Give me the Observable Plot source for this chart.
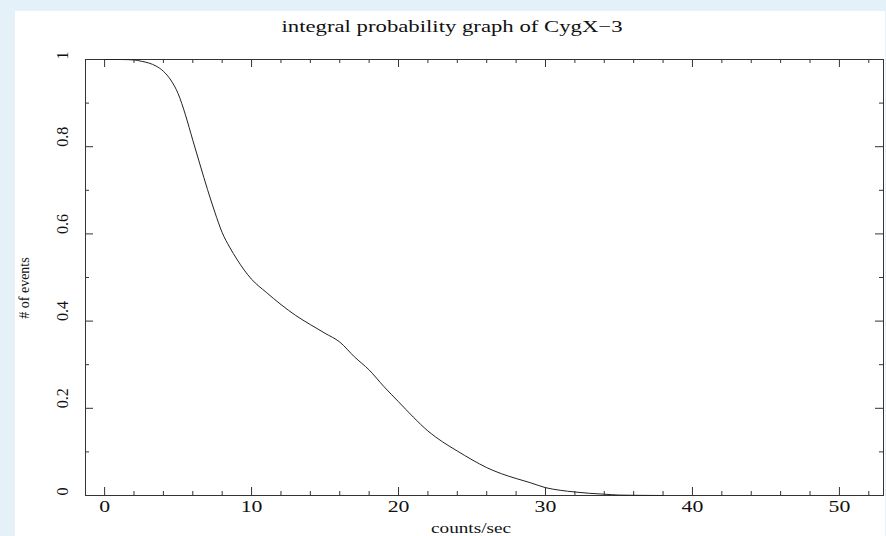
<!DOCTYPE html>
<html>
<head>
<meta charset="utf-8">
<script src="https://cdn.jsdelivr.net/npm/d3@7"></script>
<script src="https://cdn.jsdelivr.net/npm/@observablehq/plot@0.6"></script>
<style>
  html, body { margin: 0; padding: 0; background: #e4f1f8; width: 886px; height: 536px; overflow: hidden; }
  #chart { position: absolute; left: 15px; top: 11px; }
  #chart svg { display: block; background: white; }
</style>
</head>
<body>
<div id="chart"></div>
<script>
const titleText = "integral probability graph of CygX\u22123";
const xLabel = "counts/sec";
const yLabel = "# of events";

const countsPerSec = [0, 1, 2, 2.5, 3, 3.5, 4, 4.5, 5, 5.5, 6, 6.5, 7, 7.5, 8, 8.5, 9, 9.5, 10, 11, 12, 13, 14, 15, 16, 17, 18, 19, 20, 21, 22, 23, 24, 25, 26, 27, 28, 29, 30, 31, 32, 33, 34, 35, 36, 37, 38];
const probability  = [1, 1, 0.999, 0.996, 0.992, 0.985, 0.973, 0.953, 0.922, 0.873, 0.815, 0.758, 0.702, 0.65, 0.603, 0.57, 0.542, 0.517, 0.496, 0.466, 0.438, 0.413, 0.392, 0.372, 0.352, 0.318, 0.288, 0.25, 0.215, 0.18, 0.148, 0.123, 0.102, 0.082, 0.064, 0.05, 0.039, 0.029, 0.018, 0.012, 0.008, 0.005, 0.003, 0.001, 0.0005, 0.0002, 0];

const xMajorTicks = [0, 10, 20, 30, 40, 50];
const xMinorTicks = [2, 4, 6, 8, 12, 14, 16, 18, 22, 24, 26, 28, 32, 34, 36, 38, 42, 44, 46, 48, 52];
const yMajorTicks = [0, 0.2, 0.4, 0.6, 0.8, 1];
const yTickLabels = ["0", "0.2", "0.4", "0.6", "0.8", "1"];
const yMinorTicks = [0.1, 0.3, 0.5, 0.7, 0.9];

const data = countsPerSec.map((x, i) => ({x, y: probability[i]}));

const W = 870, H = 525, mL = 70, mR = 2, mT = 48, mB = 41;
const iW = W - mL - mR, iH = H - mT - mB;
const major = 8, minor = 4;
const ink = "#333";
const serif = "'Liberation Serif', 'DejaVu Serif', serif";

const chart = Plot.plot({
  width: W, height: H,
  marginLeft: mL, marginRight: mR, marginTop: mT, marginBottom: mB,
  x: {domain: [-1.3, 53]},
  y: {domain: [0, 1], axis: null},
  style: {fontFamily: serif, fontSize: "16px", color: "#111", background: "white"},
  marks: [
    Plot.frame({stroke: ink, strokeWidth: 1}),
    Plot.tickX(xMajorTicks, {x: d => d, insetTop: iH - major, stroke: ink}),
    Plot.tickX(xMinorTicks, {x: d => d, insetTop: iH - minor, stroke: ink}),
    Plot.tickX(xMajorTicks, {x: d => d, insetBottom: iH - major, stroke: ink}),
    Plot.tickX(xMinorTicks, {x: d => d, insetBottom: iH - minor, stroke: ink}),
    Plot.tickY(yMajorTicks, {y: d => d, insetRight: iW - major, stroke: ink}),
    Plot.tickY(yMinorTicks, {y: d => d, insetRight: iW - minor, stroke: ink}),
    Plot.tickY(yMajorTicks, {y: d => d, insetLeft: iW - major, stroke: ink}),
    Plot.tickY(yMinorTicks, {y: d => d, insetLeft: iW - minor, stroke: ink}),
    Plot.axisX(xMajorTicks, {tickSize: 0, tickPadding: 5, fontSize: 16, label: null, tickFormat: d => String(d)}),
    Plot.text(yMajorTicks, {y: d => d, text: (d, i) => yTickLabels[i], frameAnchor: "left", dx: -23, rotate: -90, fontSize: 16, fill: "#111"}),
    Plot.line(data, {x: "x", y: "y", curve: "monotone-x", stroke: "#222", strokeWidth: 1})
  ]
});
document.getElementById("chart").appendChild(chart);

// Titles / axis labels (text, horizontally stretched like the reference lettering)
const svg = d3.select(chart);
const stretch = 1.36;
svg.append("text")
  .attr("x", 437).attr("y", 21)
  .attr("text-anchor", "middle")
  .attr("font-family", serif).attr("font-size", 16).attr("fill", "#111")
  .text(titleText)
  .attr("textLength", 341).attr("lengthAdjust", "spacingAndGlyphs");
svg.append("text")
  .attr("x", 456).attr("y", 522)
  .attr("text-anchor", "middle")
  .attr("font-family", serif).attr("font-size", 15).attr("fill", "#111")
  .text(xLabel)
  .attr("textLength", 80).attr("lengthAdjust", "spacingAndGlyphs");
svg.append("text")
  .attr("transform", "translate(14,277) rotate(-90)")
  .attr("text-anchor", "middle")
  .attr("font-family", serif).attr("font-size", 14).attr("fill", "#111")
  .text(yLabel);

// widen x tick labels to match the reference glyph width
svg.selectAll("g[aria-label='x-axis tick label'] text").each(function() {
  const len = this.getComputedTextLength();
  if (len > 0) {
    this.setAttribute("textLength", len * stretch);
    this.setAttribute("lengthAdjust", "spacingAndGlyphs");
  }
});
</script>
</body>
</html>
